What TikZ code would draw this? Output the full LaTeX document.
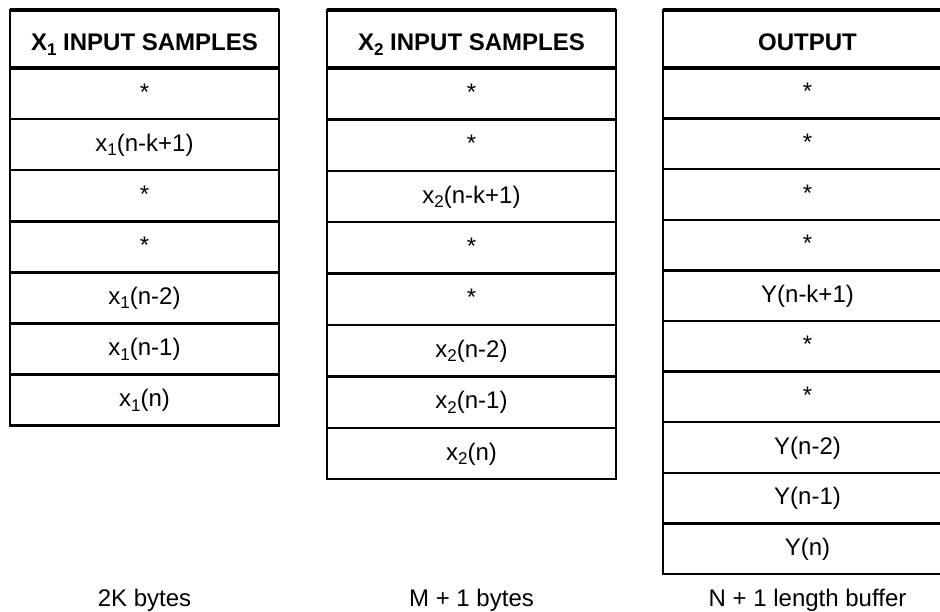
\documentclass[tikz,border=0pt]{standalone}
\usepackage{fontspec}
\setmainfont{Liberation Sans}
\usetikzlibrary{math}
\newcommand{\lowsub}[1]{\raisebox{-4.5pt}{\fontsize{17}{17}\selectfont #1}}
\newcommand{\hdsub}[1]{\raisebox{-5pt}{\fontsize{17}{17}\selectfont #1}}

\begin{document}
\begin{tikzpicture}[x=1pt,y=-1pt,
  cell/.style={anchor=base, inner sep=0pt, font=\fontsize{24}{28}\selectfont},
  head/.style={cell, font=\fontsize{24}{28}\selectfont\bfseries},
  rowline/.style={line width=2.5pt},
  headline/.style={line width=4.5pt}]
\tikzmath{
\ytop=10;
\hd=68;
\rha=51.1; \rhb=51.4; \rhc=50.6;
\aL=10; \aR=279;
\bL=327; \bR=616;
\cL=663; \cR=952;
}
\useasboundingbox (0,0) rectangle (940,611);
\clip (0,0) rectangle (940,611);

% x1 input samples
\draw[rowline] (\aL,\ytop) rectangle (\aR,\hd+7*\rha);
\foreach \i in {1,...,6}
  \draw[rowline] (\aL,\hd+\i*\rha) -- (\aR,\hd+\i*\rha);
\draw[headline] (\aL,\ytop) -- (\aR,\ytop);
\draw[headline] (\aL,\hd) -- (\aR,\hd);
\node[head] (a0) at ({(\aL+\aR)/2},\hd-18) {X\hdsub{1} INPUT SAMPLES};
\foreach \t [count=\i] in {*, x\lowsub{1}(n-k+1), *, *, x\lowsub{1}(n-2), x\lowsub{1}(n-1), x\lowsub{1}(n)}
  \node[cell] (a\i) at ({(\aL+\aR)/2},{\hd+(\i-0.5)*\rha+6.5}) {\t};
\node[cell] (alen) at ({(\aL+\aR)/2},606) {2K bytes};

% x2 input samples
\draw[rowline] (\bL,\ytop) rectangle (\bR,\hd+8*\rhb);
\foreach \i in {1,...,7}
  \draw[rowline] (\bL,\hd+\i*\rhb) -- (\bR,\hd+\i*\rhb);
\draw[headline] (\bL,\ytop) -- (\bR,\ytop);
\draw[headline] (\bL,\hd) -- (\bR,\hd);
\node[head] (b0) at ({(\bL+\bR)/2},\hd-18) {X\hdsub{2} INPUT SAMPLES};
\foreach \t [count=\i] in {*, *, x\lowsub{2}(n-k+1), *, *, x\lowsub{2}(n-2), x\lowsub{2}(n-1), x\lowsub{2}(n)}
  \node[cell] (b\i) at ({(\bL+\bR)/2},{\hd+(\i-0.5)*\rhb+6.5}) {\t};
\node[cell] (blen) at ({(\bL+\bR)/2},606) {M + 1 bytes};

% output
\draw[rowline] (\cL,\ytop) rectangle (\cR,\hd+10*\rhc);
\foreach \i in {1,...,9}
  \draw[rowline] (\cL,\hd+\i*\rhc) -- (\cR,\hd+\i*\rhc);
\draw[headline] (\cL,\ytop) -- (\cR,\ytop);
\draw[headline] (\cL,\hd) -- (\cR,\hd);
\node[head] (c0) at ({(\cL+\cR)/2},\hd-18) {OUTPUT};
\foreach \t [count=\i] in {*, *, *, *, Y(n-k+1), *, *, Y(n-2), Y(n-1), Y(n)}
  \node[cell] (c\i) at ({(\cL+\cR)/2},{\hd+(\i-0.5)*\rhc+6.5}) {\t};
\node[cell] (clen) at ({(\cL+\cR)/2},606) {N + 1 length buffer};

\end{tikzpicture}
\end{document}
